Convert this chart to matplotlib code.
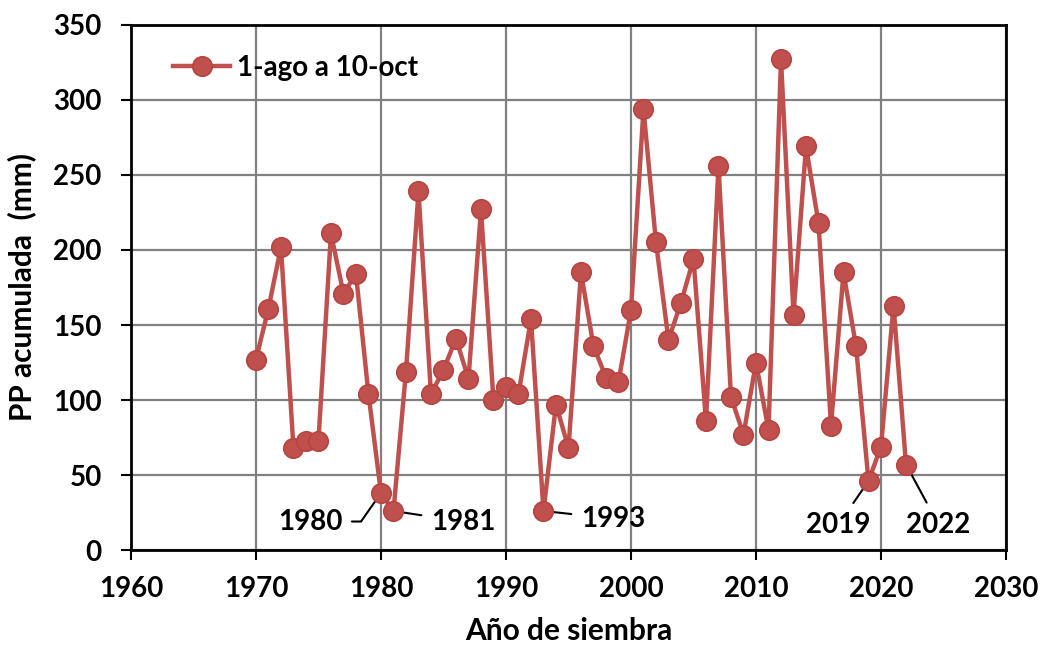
import matplotlib.pyplot as plt

plt.rcParams["font.family"] = ["Lato", "DejaVu Sans"]
plt.rcParams["font.weight"] = "bold"

# accumulated rainfall 1-ago to 10-oct, per sowing year
years = list(range(1970, 2023))
pp_mm = [127, 161, 202, 68, 73, 73, 211, 171, 184, 104,
         38, 26, 119, 239, 104, 120, 141, 114, 227, 100,
         109, 104, 154, 26, 97, 68, 185, 136, 115, 112,
         160, 294, 205, 140, 165, 194, 86, 256, 102, 77,
         125, 80, 327, 157, 269, 218, 83, 185, 136, 46,
         69, 163, 57]

# labelled dry years and where their labels sit
label_years = [1980, 1981, 1993, 2019, 2022]
label_pos = [(1976.9, 19), (1984.0, 19), (1996.0, 21), (2016.6, 17), (2024.6, 17)]
label_ha = ["right", "left", "left", "center", "center"]
label_conn = ["angle,angleA=0,angleB=55,rad=0", "arc3", "arc3", "arc3", "arc3"]

RED = "#C0504D"
FS = 20

fig = plt.figure(figsize=(10.51, 6.52), dpi=100)
ax = fig.add_axes([0.1246, 0.1564, 0.8326, 0.8053])

ax.plot(years, pp_mm, color=RED, lw=3.2, marker="o", ms=14,
        markerfacecolor=RED, markeredgecolor="#B9443F", markeredgewidth=1.2,
        label="1-ago a 10-oct", zorder=3)

for yr, pos, ha, conn in zip(label_years, label_pos, label_ha, label_conn):
    val = pp_mm[years.index(yr)]
    ax.annotate(str(yr), xy=(yr, val), xytext=pos, ha=ha, va="center",
                fontsize=FS, fontweight="bold",
                arrowprops=dict(arrowstyle="-", color="black", lw=1.5,
                                shrinkA=5, shrinkB=2, connectionstyle=conn),
                zorder=2)

ax.set_xlim(1960, 2030)
ax.set_ylim(0, 350)
ax.set_xticks(range(1960, 2031, 10))
ax.set_yticks(range(0, 351, 50))
ax.grid(True, color="#808080", lw=1.6)
ax.set_axisbelow(True)
for sp in ax.spines.values():
    sp.set_linewidth(2)
    sp.set_color("black")
ax.tick_params(direction="out", length=7, width=1.5, labelsize=FS)
ax.tick_params(axis="y", pad=14)
ax.tick_params(axis="x", pad=12)

ax.set_xlabel("Año de siembra", fontsize=21.5, fontweight="bold")
ax.set_ylabel("PP acumulada  (mm)", fontsize=21.5, fontweight="bold")
ax.xaxis.set_label_coords(0.5, -0.128)
ax.yaxis.set_label_coords(-0.108, 0.5)

ax.legend(loc="upper left", bbox_to_anchor=(0.02, 0.99), frameon=False,
          fontsize=FS, handlelength=2.05, handletextpad=0.25)

fig.savefig("out.png", dpi=100)
